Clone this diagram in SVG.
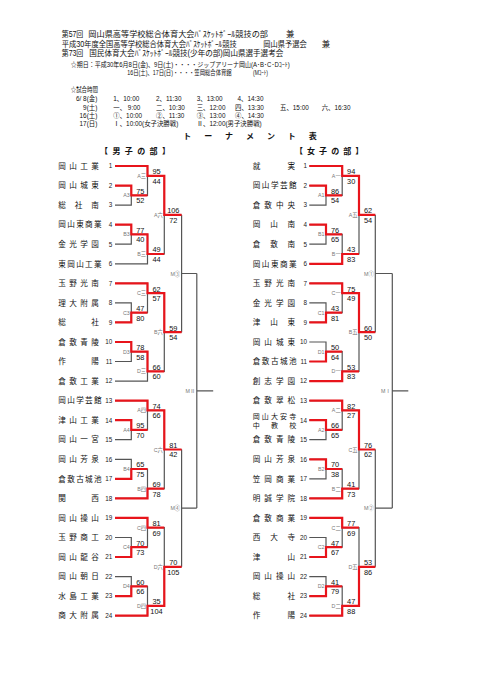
<svg xmlns="http://www.w3.org/2000/svg" width="481" height="680" viewBox="0 0 481 680">
<style>
text{font-family:"Liberation Sans","Noto Sans CJK JP",sans-serif;fill:#111}
.h1{font-size:8.3px}
.h2{font-size:6.4px}
.tt{font-size:8px;font-weight:bold}
.nm{font-family:"Noto Sans CJK JP",sans-serif;font-size:7.6px}
.n2{font-family:"Noto Sans CJK JP",sans-serif;font-size:7px}
.no{font-size:6.3px;text-anchor:end;fill:#222}
.sc{font-size:7.4px;text-anchor:middle}
.lb{font-size:5.3px;text-anchor:end;fill:#777}
.gr{fill:none;stroke:#555;stroke-width:1.2}
.rd{fill:none;stroke:#e8141b;stroke-width:2.2;stroke-linejoin:miter}
</style>
<rect width="481" height="680" fill="#fff"/>
<g id="header">
<text class="h1" x="61.7" y="37" textLength="21.6" lengthAdjust="spacingAndGlyphs">第57回</text>
<text class="h1" x="88.3" y="37" textLength="179.7" lengthAdjust="spacingAndGlyphs">岡山県高等学校総合体育大会ﾊﾞｽｹｯﾄﾎﾞｰﾙ競技の部</text>
<text class="h1" x="286" y="37">兼</text>
<text class="h1" x="61.7" y="47" textLength="175" lengthAdjust="spacingAndGlyphs">平成30年度全国高等学校総合体育大会ﾊﾞｽｹｯﾄﾎﾞｰﾙ競技</text>
<text class="h1" x="263.3" y="47" textLength="43.4" lengthAdjust="spacingAndGlyphs">岡山県予選会</text>
<text class="h1" x="321.7" y="47">兼</text>
<text class="h1" x="61.7" y="56.2" textLength="21.6" lengthAdjust="spacingAndGlyphs">第73回</text>
<text class="h1" x="89.3" y="56.2" textLength="194" lengthAdjust="spacingAndGlyphs">国民体育大会ﾊﾞｽｹｯﾄﾎﾞｰﾙ競技(少年の部)岡山県選手選考会</text>
<text class="h2" x="70.7" y="67.3" textLength="219" lengthAdjust="spacingAndGlyphs">☆期日：平成30年6月8日(金)、9日(土)・・・・ジップアリーナ岡山(A･B･C･Dｺｰﾄ)</text>
<text class="h2" x="127.3" y="74.6" textLength="104.4" lengthAdjust="spacingAndGlyphs">16日(土)、17日(日)・・・・笠岡総合体育館</text>
<text class="h2" x="253" y="74.6" textLength="15" lengthAdjust="spacingAndGlyphs">(Mｺｰﾄ)</text>
<text class="h2" x="70.7" y="91.6" textLength="27.3" lengthAdjust="spacingAndGlyphs">☆試合時間</text>
<text class="h2" x="97.3" y="100.6" text-anchor="end">6/ 8(金)</text>
<text class="h2" x="113.3" y="100.6">1、10:00</text>
<text class="h2" x="156" y="100.6">2、11:30</text>
<text class="h2" x="196.7" y="100.6">3、13:00</text>
<text class="h2" x="237.5" y="100.6">4、14:30</text>
<text class="h2" x="97.3" y="109.6" text-anchor="end">9(土)</text>
<text class="h2" x="113.3" y="109.6">一、 9:00</text>
<text class="h2" x="156" y="109.6">二、10:30</text>
<text class="h2" x="196.7" y="109.6">三、12:00</text>
<text class="h2" x="235" y="109.6">四、13:30</text>
<text class="h2" x="280" y="109.6">五、15:00</text>
<text class="h2" x="321.7" y="109.6">六、16:30</text>
<text class="h2" x="97.3" y="118.3" text-anchor="end">16(土)</text>
<text class="h2" x="113.3" y="118.3">①、10:00</text>
<text class="h2" x="156" y="118.3">②、11:30</text>
<text class="h2" x="196.7" y="118.3">③、13:00</text>
<text class="h2" x="235" y="118.3">④、14:30</text>
<text class="h2" x="97.3" y="126.3" text-anchor="end">17(日)</text>
<text class="h2" x="113.3" y="126.3">Ⅰ、10:00(女子決勝戦)</text>
<text class="h2" x="196.7" y="126.3">Ⅱ、12:00(男子決勝戦)</text>
<text class="tt" x="183.3" y="138.5" textLength="133.4" lengthAdjust="spacing">トーナメント表</text>
<text class="tt" x="100" y="154" textLength="70" lengthAdjust="spacing">【男子の部】</text>
<text class="tt" x="295" y="154" textLength="68.3" lengthAdjust="spacing">【女子の部】</text>
</g>
<g id="connectors">
<path class="gr" d="M115 166H147.5V195.3H131.3M115 185.6H131.3V205.1H115M115 224.7H131.3V244.2H115M131.3 234.4H147.5V263.8H115M147.5 175.8H164.3V254H147.5M164.3 214.9H181.6
M115 283.3H147.5V312.6H131.3M115 302.9H131.3V322.4H115M115 342H131.3V361.5H115M131.3 351.7H147.5V381.1H115M147.5 293.1H164.3V371.3H147.5M164.3 332.2H181.6
M115 400.6H147.5V429.9H131.3M115 420.2H131.3V439.7H115M115 459.3H131.3V478.8H115M131.3 469H147.5V498.4H115M147.5 410.4H164.3V488.6H147.5M164.3 449.5H181.6
M115 517.9H147.5V547.2H131.3M115 537.5H131.3V557H115M115 576.6H131.3V596.1H115M131.3 586.3H147.5V615.7H115M147.5 527.7H164.3V605.9H147.5M164.3 566.8H181.6
M181.6 214.9V332.2M181.6 273.5H196.8M181.6 449.5V566.8M181.6 508.1H196.8M196.8 273.5V508.1M196.8 390.8H213.2"/>
<path class="gr" d="M309.3 166H342.2V195.3H326M309.3 185.6H326V205.1H309.3M309.3 224.7H326V244.2H309.3M326 234.4H342.2V263.8H309.3M342.2 175.8H359V254H342.2M359 214.9H375.3
M309.3 283.3H342.2V312.6H326M309.3 302.9H326V322.4H309.3M309.3 342H326V361.5H309.3M326 351.7H342.2V381.1H309.3M342.2 293.1H359V371.3H342.2M359 332.2H375.3
M309.3 400.6H342.2V429.9H326M309.3 420.2H326V439.7H309.3M309.3 459.3H326V478.8H309.3M326 469H342.2V498.4H309.3M342.2 410.4H359V488.6H342.2M359 449.5H375.3
M309.3 517.9H342.2V547.2H326M309.3 537.5H326V557H309.3M309.3 576.6H326V596.1H309.3M326 586.3H342.2V615.7H309.3M342.2 527.7H359V605.9H342.2M359 566.8H375.3
M375.3 214.9V332.2M375.3 273.5H392.3M375.3 449.5V566.8M375.3 508.1H392.3M392.3 273.5V508.1M392.3 390.8H408.3"/>
<path class="rd" d="M115 166H147.5V175.8H164.3V214.9H181.6M115 185.6H131.3V195.3H147.5M115 224.7H131.3V234.4H147.5V254H164.3
M115 283.3H147.5V293.1H164.3V332.2H181.6M115 322.4H131.3V312.6H147.5M115 342H131.3V351.7H147.5V371.3H164.3
M115 400.6H147.5V410.4H164.3V449.5H181.6M115 420.2H131.3V429.9H147.5M115 478.8H131.3V469H147.5M115 498.4H147.5V488.6H164.3
M115 517.9H147.5V527.7H164.3M115 557H131.3V547.2H147.5M115 596.1H131.3V586.3H147.5M115 615.7H147.5V605.9H164.3V566.8H181.6"/>
<path class="rd" d="M309.3 166H342.2V175.8H359V214.9H375.3M309.3 185.6H326V195.3H342.2M309.3 224.7H326V234.4H342.2M309.3 263.8H342.2V254H359
M309.3 283.3H342.2V293.1H359V332.2H375.3M309.3 322.4H326V312.6H342.2M309.3 361.5H326V351.7H342.2M309.3 381.1H342.2V371.3H359
M309.3 400.6H342.2V410.4H359V449.5H375.3M309.3 420.2H326V429.9H342.2M309.3 459.3H326V469H342.2M309.3 498.4H342.2V488.6H359
M309.3 517.9H342.2V527.7H359M309.3 557H326V547.2H342.2M309.3 596.1H326V586.3H342.2M309.3 615.7H342.2V605.9H359V566.8H375.3"/>
</g>
<g id="boys-teams">
<g id="b01"><text class="nm" x="58.3" y="168.7" textLength="40.5" lengthAdjust="spacing">岡山工業</text><text class="no" x="112.3" y="168.3">1</text></g>
<g id="b02"><text class="nm" x="58.3" y="188.3" textLength="40.5" lengthAdjust="spacing">岡山城東</text><text class="no" x="112.3" y="187.9">2</text></g>
<g id="b03"><text class="nm" x="58.3" y="207.8" textLength="40.5" lengthAdjust="spacing">総社南</text><text class="no" x="112.3" y="207.4">3</text></g>
<g id="b04"><text class="nm" x="58.3" y="227.4" textLength="43.3" lengthAdjust="spacing">岡山東商業</text><text class="no" x="112.3" y="227">4</text></g>
<g id="b05"><text class="nm" x="58.3" y="246.9" textLength="40.5" lengthAdjust="spacing">金光学園</text><text class="no" x="112.3" y="246.5">5</text></g>
<g id="b06"><text class="nm" x="58.3" y="266.5" textLength="43.3" lengthAdjust="spacing">東岡山工業</text><text class="no" x="112.3" y="266.1">6</text></g>
<g id="b07"><text class="nm" x="58.3" y="286" textLength="40.5" lengthAdjust="spacing">玉野光南</text><text class="no" x="112.3" y="285.6">7</text></g>
<g id="b08"><text class="nm" x="58.3" y="305.6" textLength="40.5" lengthAdjust="spacing">理大附属</text><text class="no" x="112.3" y="305.2">8</text></g>
<g id="b09"><text class="nm" x="58.3" y="325.1" textLength="40.5" lengthAdjust="spacing">総社</text><text class="no" x="112.3" y="324.7">9</text></g>
<g id="b10"><text class="nm" x="58.3" y="344.7" textLength="40.5" lengthAdjust="spacing">倉敷青陵</text><text class="no" x="112.3" y="344.3">10</text></g>
<g id="b11"><text class="nm" x="58.3" y="364.2" textLength="40.5" lengthAdjust="spacing">作陽</text><text class="no" x="112.3" y="363.8">11</text></g>
<g id="b12"><text class="nm" x="58.3" y="383.8" textLength="40.5" lengthAdjust="spacing">倉敷工業</text><text class="no" x="112.3" y="383.4">12</text></g>
<g id="b13"><text class="nm" x="58.3" y="403.3" textLength="43.3" lengthAdjust="spacing">岡山学芸館</text><text class="no" x="112.3" y="402.9">13</text></g>
<g id="b14"><text class="nm" x="58.3" y="422.9" textLength="40.5" lengthAdjust="spacing">津山工業</text><text class="no" x="112.3" y="422.5">14</text></g>
<g id="b15"><text class="nm" x="58.3" y="442.4" textLength="40.5" lengthAdjust="spacing">岡山一宮</text><text class="no" x="112.3" y="442">15</text></g>
<g id="b16"><text class="nm" x="58.3" y="462" textLength="40.5" lengthAdjust="spacing">岡山芳泉</text><text class="no" x="112.3" y="461.6">16</text></g>
<g id="b17"><text class="nm" x="58.3" y="481.5" textLength="43.3" lengthAdjust="spacing">倉敷古城池</text><text class="no" x="112.3" y="481.1">17</text></g>
<g id="b18"><text class="nm" x="58.3" y="501.1" textLength="40.5" lengthAdjust="spacing">関西</text><text class="no" x="112.3" y="500.7">18</text></g>
<g id="b19"><text class="nm" x="58.3" y="520.6" textLength="40.5" lengthAdjust="spacing">岡山操山</text><text class="no" x="112.3" y="520.2">19</text></g>
<g id="b20"><text class="nm" x="58.3" y="540.2" textLength="40.5" lengthAdjust="spacing">玉野商工</text><text class="no" x="112.3" y="539.8">20</text></g>
<g id="b21"><text class="nm" x="58.3" y="559.7" textLength="40.5" lengthAdjust="spacing">岡山龍谷</text><text class="no" x="112.3" y="559.3">21</text></g>
<g id="b22"><text class="nm" x="58.3" y="579.3" textLength="40.5" lengthAdjust="spacing">岡山朝日</text><text class="no" x="112.3" y="578.9">22</text></g>
<g id="b23"><text class="nm" x="58.3" y="598.8" textLength="40.5" lengthAdjust="spacing">水島工業</text><text class="no" x="112.3" y="598.4">23</text></g>
<g id="b24"><text class="nm" x="58.3" y="618.4" textLength="40.5" lengthAdjust="spacing">商大附属</text><text class="no" x="112.3" y="618">24</text></g>
</g>
<g id="girls-teams">
<g id="g01"><text class="nm" x="252.7" y="168.7" textLength="42.5" lengthAdjust="spacing">就実</text><text class="no" x="307" y="168.3">1</text></g>
<g id="g02"><text class="nm" x="252.7" y="188.3" textLength="44" lengthAdjust="spacing">岡山学芸館</text><text class="no" x="307" y="187.9">2</text></g>
<g id="g03"><text class="nm" x="252.7" y="207.8" textLength="42.5" lengthAdjust="spacing">倉敷中央</text><text class="no" x="307" y="207.4">3</text></g>
<g id="g04"><text class="nm" x="252.7" y="227.4" textLength="42.5" lengthAdjust="spacing">岡山南</text><text class="no" x="307" y="227">4</text></g>
<g id="g05"><text class="nm" x="252.7" y="246.9" textLength="42.5" lengthAdjust="spacing">倉敷南</text><text class="no" x="307" y="246.5">5</text></g>
<g id="g06"><text class="nm" x="252.7" y="266.5" textLength="44" lengthAdjust="spacing">岡山東商業</text><text class="no" x="307" y="266.1">6</text></g>
<g id="g07"><text class="nm" x="252.7" y="286" textLength="42.5" lengthAdjust="spacing">玉野光南</text><text class="no" x="307" y="285.6">7</text></g>
<g id="g08"><text class="nm" x="252.7" y="305.6" textLength="42.5" lengthAdjust="spacing">金光学園</text><text class="no" x="307" y="305.2">8</text></g>
<g id="g09"><text class="nm" x="252.7" y="325.1" textLength="42.5" lengthAdjust="spacing">津山東</text><text class="no" x="307" y="324.7">9</text></g>
<g id="g10"><text class="nm" x="252.7" y="344.7" textLength="42.5" lengthAdjust="spacing">岡山城東</text><text class="no" x="307" y="344.3">10</text></g>
<g id="g11"><text class="nm" x="252.7" y="364.2" textLength="44" lengthAdjust="spacing">倉敷古城池</text><text class="no" x="307" y="363.8">11</text></g>
<g id="g12"><text class="nm" x="252.7" y="383.8" textLength="42.5" lengthAdjust="spacing">創志学園</text><text class="no" x="307" y="383.4">12</text></g>
<g id="g13"><text class="nm" x="252.7" y="403.3" textLength="42.5" lengthAdjust="spacing">倉敷翠松</text><text class="no" x="307" y="402.9">13</text></g>
<g id="g14"><text class="n2" x="252.7" y="419.2" textLength="43.5" lengthAdjust="spacing">岡山大安寺</text><text class="n2" x="252.7" y="427.8" textLength="43.5" lengthAdjust="spacing">中教校</text><text class="no" x="307" y="422.5">14</text></g>
<g id="g15"><text class="nm" x="252.7" y="442.4" textLength="42.5" lengthAdjust="spacing">倉敷青陵</text><text class="no" x="307" y="442">15</text></g>
<g id="g16"><text class="nm" x="252.7" y="462" textLength="42.5" lengthAdjust="spacing">岡山芳泉</text><text class="no" x="307" y="461.6">16</text></g>
<g id="g17"><text class="nm" x="252.7" y="481.5" textLength="42.5" lengthAdjust="spacing">笠岡商業</text><text class="no" x="307" y="481.1">17</text></g>
<g id="g18"><text class="nm" x="252.7" y="501.1" textLength="42.5" lengthAdjust="spacing">明誠学院</text><text class="no" x="307" y="500.7">18</text></g>
<g id="g19"><text class="nm" x="252.7" y="520.6" textLength="42.5" lengthAdjust="spacing">倉敷商業</text><text class="no" x="307" y="520.2">19</text></g>
<g id="g20"><text class="nm" x="252.7" y="540.2" textLength="42.5" lengthAdjust="spacing">西大寺</text><text class="no" x="307" y="539.8">20</text></g>
<g id="g21"><text class="nm" x="252.7" y="559.7" textLength="42.5" lengthAdjust="spacing">津山</text><text class="no" x="307" y="559.3">21</text></g>
<g id="g22"><text class="nm" x="252.7" y="579.3" textLength="42.5" lengthAdjust="spacing">岡山操山</text><text class="no" x="307" y="578.9">22</text></g>
<g id="g23"><text class="nm" x="252.7" y="598.8" textLength="42.5" lengthAdjust="spacing">総社</text><text class="no" x="307" y="598.4">23</text></g>
<g id="g24"><text class="nm" x="252.7" y="618.4" textLength="42.5" lengthAdjust="spacing">作陽</text><text class="no" x="307" y="618">24</text></g>
</g>
<g id="boys-matches">
<g id="bA3"><text class="lb" x="129.8" y="197.3">A3</text><text class="sc" x="140.3" y="193.7">75</text><text class="sc" x="140.3" y="203.2">52</text></g>
<g id="bA三"><text class="lb" x="146" y="177.8">A三</text><text class="sc" x="156.5" y="174.2">95</text><text class="sc" x="156.5" y="183.7">44</text></g>
<g id="bB3"><text class="lb" x="129.8" y="236.4">B3</text><text class="sc" x="140.3" y="232.8">77</text><text class="sc" x="140.3" y="242.3">40</text></g>
<g id="bB三"><text class="lb" x="146" y="256">B三</text><text class="sc" x="156.5" y="252.4">49</text><text class="sc" x="156.5" y="261.9">44</text></g>
<g id="bA六"><text class="lb" x="162.8" y="216.9">A六</text><text class="sc" x="173.3" y="213.3">106</text><text class="sc" x="173.3" y="222.8">72</text></g>
<g id="bC3"><text class="lb" x="129.8" y="314.6">C3</text><text class="sc" x="140.3" y="311">47</text><text class="sc" x="140.3" y="320.5">80</text></g>
<g id="bC三"><text class="lb" x="146" y="295.1">C三</text><text class="sc" x="156.5" y="291.5">62</text><text class="sc" x="156.5" y="301">57</text></g>
<g id="bD3"><text class="lb" x="129.8" y="353.7">D3</text><text class="sc" x="140.3" y="350.1">78</text><text class="sc" x="140.3" y="359.6">58</text></g>
<g id="bD三"><text class="lb" x="146" y="373.3">D三</text><text class="sc" x="156.5" y="369.7">66</text><text class="sc" x="156.5" y="379.2">60</text></g>
<g id="bB六"><text class="lb" x="162.8" y="334.2">B六</text><text class="sc" x="173.3" y="330.6">59</text><text class="sc" x="173.3" y="340.1">54</text></g>
<g id="bA4"><text class="lb" x="129.8" y="431.9">A4</text><text class="sc" x="140.3" y="428.3">95</text><text class="sc" x="140.3" y="437.8">70</text></g>
<g id="bA四"><text class="lb" x="146" y="412.4">A四</text><text class="sc" x="156.5" y="408.8">74</text><text class="sc" x="156.5" y="418.3">66</text></g>
<g id="bB4"><text class="lb" x="129.8" y="471">B4</text><text class="sc" x="140.3" y="467.4">65</text><text class="sc" x="140.3" y="476.9">75</text></g>
<g id="bB四"><text class="lb" x="146" y="490.6">B四</text><text class="sc" x="156.5" y="487">69</text><text class="sc" x="156.5" y="496.5">78</text></g>
<g id="bC六"><text class="lb" x="162.8" y="451.5">C六</text><text class="sc" x="173.3" y="447.9">81</text><text class="sc" x="173.3" y="457.4">42</text></g>
<g id="bC4"><text class="lb" x="129.8" y="549.2">C4</text><text class="sc" x="140.3" y="545.6">70</text><text class="sc" x="140.3" y="555.1">73</text></g>
<g id="bC四"><text class="lb" x="146" y="529.7">C四</text><text class="sc" x="156.5" y="526.1">81</text><text class="sc" x="156.5" y="535.6">69</text></g>
<g id="bD4"><text class="lb" x="129.8" y="588.3">D4</text><text class="sc" x="140.3" y="584.7">60</text><text class="sc" x="140.3" y="594.2">66</text></g>
<g id="bD四"><text class="lb" x="146" y="607.9">D四</text><text class="sc" x="156.5" y="604.3">35</text><text class="sc" x="156.5" y="613.8">104</text></g>
<g id="bD六"><text class="lb" x="162.8" y="568.8">D六</text><text class="sc" x="173.3" y="565.2">70</text><text class="sc" x="173.3" y="574.7">105</text></g>
<g id="bM3"><text class="lb" x="180.1" y="275.5">M③</text></g>
<g id="bM4"><text class="lb" x="180.1" y="510.1">M④</text></g>
<g id="bM2"><text class="lb" x="195.3" y="392.8">MⅡ</text></g>
</g>
<g id="girls-matches">
<g id="gA1"><text class="lb" x="324.5" y="197.3">A1</text><text class="sc" x="335" y="193.7">86</text><text class="sc" x="335" y="203.2">54</text></g>
<g id="gA一"><text class="lb" x="340.7" y="177.8">A一</text><text class="sc" x="351.2" y="174.2">94</text><text class="sc" x="351.2" y="183.7">30</text></g>
<g id="gB1"><text class="lb" x="324.5" y="236.4">B1</text><text class="sc" x="335" y="232.8">76</text><text class="sc" x="335" y="242.3">65</text></g>
<g id="gB一"><text class="lb" x="340.7" y="256">B一</text><text class="sc" x="351.2" y="252.4">43</text><text class="sc" x="351.2" y="261.9">83</text></g>
<g id="gA五"><text class="lb" x="357.5" y="216.9">A五</text><text class="sc" x="368" y="213.3">62</text><text class="sc" x="368" y="222.8">54</text></g>
<g id="gC1"><text class="lb" x="324.5" y="314.6">C1</text><text class="sc" x="335" y="311">43</text><text class="sc" x="335" y="320.5">81</text></g>
<g id="gC一"><text class="lb" x="340.7" y="295.1">C一</text><text class="sc" x="351.2" y="291.5">75</text><text class="sc" x="351.2" y="301">49</text></g>
<g id="gD1"><text class="lb" x="324.5" y="353.7">D1</text><text class="sc" x="335" y="350.1">50</text><text class="sc" x="335" y="359.6">64</text></g>
<g id="gD一"><text class="lb" x="340.7" y="373.3">D一</text><text class="sc" x="351.2" y="369.7">53</text><text class="sc" x="351.2" y="379.2">83</text></g>
<g id="gB五"><text class="lb" x="357.5" y="334.2">B五</text><text class="sc" x="368" y="330.6">60</text><text class="sc" x="368" y="340.1">50</text></g>
<g id="gA2"><text class="lb" x="324.5" y="431.9">A2</text><text class="sc" x="335" y="428.3">66</text><text class="sc" x="335" y="437.8">65</text></g>
<g id="gA二"><text class="lb" x="340.7" y="412.4">A二</text><text class="sc" x="351.2" y="408.8">82</text><text class="sc" x="351.2" y="418.3">27</text></g>
<g id="gB2"><text class="lb" x="324.5" y="471">B2</text><text class="sc" x="335" y="467.4">70</text><text class="sc" x="335" y="476.9">38</text></g>
<g id="gB二"><text class="lb" x="340.7" y="490.6">B二</text><text class="sc" x="351.2" y="487">41</text><text class="sc" x="351.2" y="496.5">73</text></g>
<g id="gC五"><text class="lb" x="357.5" y="451.5">C五</text><text class="sc" x="368" y="447.9">76</text><text class="sc" x="368" y="457.4">62</text></g>
<g id="gC2"><text class="lb" x="324.5" y="549.2">C2</text><text class="sc" x="335" y="545.6">47</text><text class="sc" x="335" y="555.1">67</text></g>
<g id="gC二"><text class="lb" x="340.7" y="529.7">C二</text><text class="sc" x="351.2" y="526.1">77</text><text class="sc" x="351.2" y="535.6">69</text></g>
<g id="gD2"><text class="lb" x="324.5" y="588.3">D2</text><text class="sc" x="335" y="584.7">41</text><text class="sc" x="335" y="594.2">79</text></g>
<g id="gD二"><text class="lb" x="340.7" y="607.9">D二</text><text class="sc" x="351.2" y="604.3">47</text><text class="sc" x="351.2" y="613.8">88</text></g>
<g id="gD五"><text class="lb" x="357.5" y="568.8">D五</text><text class="sc" x="368" y="565.2">53</text><text class="sc" x="368" y="574.7">86</text></g>
<g id="gM1"><text class="lb" x="373.8" y="275.5">M①</text></g>
<g id="gM2"><text class="lb" x="373.8" y="510.1">M②</text></g>
<g id="gM1f"><text class="lb" x="390.8" y="392.8">MⅠ</text></g>
</g>
</svg>
